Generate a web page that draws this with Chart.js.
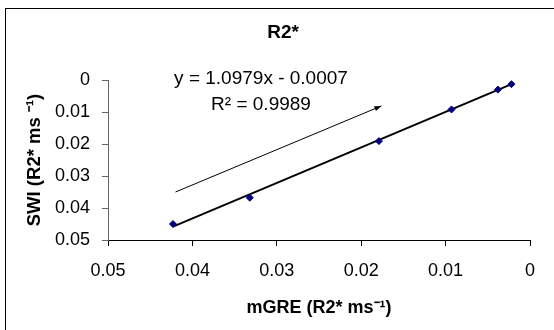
<!DOCTYPE html>
<html><head><meta charset="utf-8">
<script src="https://cdn.jsdelivr.net/npm/chart.js@4/dist/chart.umd.min.js"></script>
<style>html,body{margin:0;padding:0;background:#fff;}#wrap{width:554px;height:330px;position:relative;}</style>
</head><body><div id="wrap"><canvas id="c" width="554" height="330"></canvas></div>
<script>
const chartTitle = 'R2*';
const xAxisTitle = 'mGRE (R2* ms\u207B\u00B9)';
const yAxisTitle = 'SWI (R2* ms \u207B\u00B9)';
const mgre = [0.0423, 0.0332, 0.0179, 0.0093, 0.0038, 0.0022];
const swi  = [0.0450, 0.0368, 0.0191, 0.0092, 0.0030, 0.0013];
const trendX = [0.0423, 0.0019];
const trendY = [0.0458, 0.0010];
const arrowX = [0.0420, 0.0176];
const arrowY = [0.0350, 0.0081];
const equationLines = ['y = 1.0979x - 0.0007', 'R\u00B2 = 0.9989'];
const xTicks = [0.05, 0.04, 0.03, 0.02, 0.01, 0];
const xTickLabels = ['0.05', '0.04', '0.03', '0.02', '0.01', '0'];
const yTicks = [0, 0.01, 0.02, 0.03, 0.04, 0.05];
const yTickLabels = ['0', '0.01', '0.02', '0.03', '0.04', '0.05'];

const FONT = "'Liberation Sans', Arial, sans-serif";
const pts = (xs, ys) => xs.map((x, i) => ({x: x, y: ys[i]}));

const framePlugin = {
  id: 'frame',
  beforeDraw(chart) {
    const ctx = chart.ctx;
    ctx.save();
    ctx.fillStyle = '#fff';
    ctx.fillRect(0, 0, chart.width, chart.height);
    ctx.strokeStyle = '#000';
    ctx.lineWidth = 1;
    ctx.strokeRect(5.5, 8.5, chart.width + 10, chart.height + 10);
    ctx.restore();
  },
  afterDatasetsDraw(chart) {
    const ctx = chart.ctx;
    const xs = chart.scales.x, ys = chart.scales.y;
    // arrow head
    const x0 = xs.getPixelForValue(arrowX[0]), y0 = ys.getPixelForValue(arrowY[0]);
    const x1 = xs.getPixelForValue(arrowX[1]), y1 = ys.getPixelForValue(arrowY[1]);
    const ang = Math.atan2(y1 - y0, x1 - x0);
    ctx.save();
    ctx.fillStyle = '#000';
    ctx.beginPath();
    ctx.moveTo(x1, y1);
    ctx.lineTo(x1 - 7 * Math.cos(ang) + 2.5 * Math.sin(ang), y1 - 7 * Math.sin(ang) - 2.5 * Math.cos(ang));
    ctx.lineTo(x1 - 7 * Math.cos(ang) - 2.5 * Math.sin(ang), y1 - 7 * Math.sin(ang) + 2.5 * Math.cos(ang));
    ctx.closePath();
    ctx.fill();
    // chart title
    ctx.textAlign = 'center';
    ctx.textBaseline = 'middle';
    ctx.font = 'bold 19px ' + FONT;
    ctx.fillText(chartTitle, 283, 33);
    // equation
    ctx.font = '19px ' + FONT;
    const cx = chart.chartArea.left + 153;
    ctx.fillText(equationLines[0], cx, chart.chartArea.top - 1);
    ctx.fillText(equationLines[1], cx, chart.chartArea.top + 25);
    ctx.restore();
  }
};

new Chart(document.getElementById('c'), {
  type: 'scatter',
  data: {
    datasets: [
      {
        label: 'data',
        data: pts(mgre, swi),
        pointStyle: 'rectRot',
        pointRadius: 3.5,
        backgroundColor: '#000080',
        borderColor: '#000080',
        borderWidth: 1,
        showLine: false,
        order: 0
      },
      {
        label: 'trend',
        data: pts(trendX, trendY),
        showLine: true,
        borderColor: '#000',
        borderWidth: 2,
        pointRadius: 0,
        order: 1
      },
      {
        label: 'arrow',
        data: pts(arrowX, arrowY),
        showLine: true,
        borderColor: '#000',
        borderWidth: 1,
        pointRadius: 0,
        order: 2
      }
    ]
  },
  options: {
    responsive: false,
    animation: false,
    events: [],
    layout: { padding: { left: 6, right: 24, top: 80, bottom: 0 } },
    plugins: {
      legend: { display: false },
      tooltip: { enabled: false },
      title: { display: false }
    },
    scales: {
      x: {
        type: 'linear',
        reverse: true,
        min: 0, max: 0.05,
        afterBuildTicks: (s) => { s.ticks = xTicks.map(v => ({value: v})); },
        afterFit: (s) => { s.height = 90; },
        grid: { drawOnChartArea: false, drawTicks: true, tickLength: 6, color: '#000' },
        border: { display: true, color: '#000', width: 1 },
        ticks: {
          color: '#000', padding: 14, maxRotation: 0, autoSkip: false,
          font: { family: FONT, size: 18 },
          callback: (v, i) => xTickLabels[i]
        },
        title: {
          display: true, text: xAxisTitle, color: '#000',
          font: { family: FONT, size: 18, weight: 'bold', lineHeight: 1.2 },
          padding: { top: 4, bottom: 11 }
        }
      },
      y: {
        type: 'linear',
        reverse: true,
        min: 0, max: 0.05,
        afterBuildTicks: (s) => { s.ticks = yTicks.map(v => ({value: v})); },
        afterFit: (s) => { s.width = 102; },
        grid: { drawOnChartArea: false, drawTicks: true, tickLength: 6, color: '#666' },
        border: { display: true, color: '#666', width: 1 },
        ticks: {
          color: '#000', padding: 12, autoSkip: false,
          font: { family: FONT, size: 18 },
          callback: (v, i) => yTickLabels[i]
        },
        title: {
          display: true, text: yAxisTitle, color: '#000',
          font: { family: FONT, size: 18.5, weight: 'bold', lineHeight: 1.2 },
          padding: { top: 18, bottom: 4 }
        }
      }
    }
  },
  plugins: [framePlugin]
});
</script>
</body></html>
